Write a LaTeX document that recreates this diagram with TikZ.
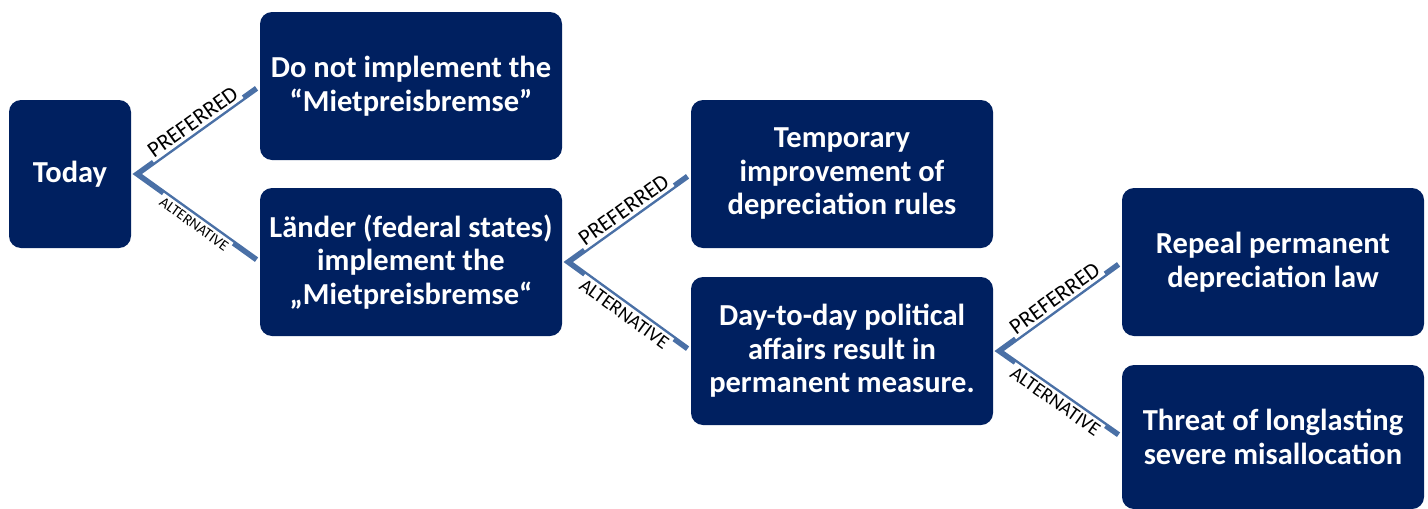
\documentclass[tikz,border=0pt]{standalone}
\usepackage{fontspec}
\setmainfont{Carlito}
\begin{document}
\begin{tikzpicture}[x=1pt,y=-1pt,
  box/.style={fill=navy, rounded corners=12pt, text=white, align=center,
    font=\bfseries\fontsize{30.5}{33.5}\selectfont, inner sep=0pt},
  link/.style={draw=linkblue, line width=5.5pt, line join=miter,
    shorten <=4pt, shorten >=4pt},
  pref/.style={sloped, pos=0.5, fill=white, inner xsep=2.5pt, inner ysep=3pt,
    above=-3pt, text=black, font=\fontsize{22.5}{22.5}\selectfont},
  alt/.style={sloped, pos=0.5, fill=white, inner xsep=2.5pt, inner ysep=3pt,
    below=-3pt, text=black, font=\fontsize{19.5}{19.5}\selectfont},
  altsmall/.style={alt, font=\fontsize{15}{15}\selectfont}]
\definecolor{navy}{RGB}{0,32,96}
\definecolor{linkblue}{RGB}{74,112,166}
\useasboundingbox (0,0) rectangle (1428,509);

% decision boxes
\node[box, minimum width=122pt, minimum height=148pt] (today) at (70,174) {Today};
\node[box, minimum width=302pt, minimum height=148pt] (nomp) at (411,86)
  {Do not implement the\\``Mietpreisbremse''};
\node[box, minimum width=302pt, minimum height=148pt] (laender) at (411,262)
  {Länder (federal states)\\implement the\\„Mietpreisbremse“};
\node[box, minimum width=302pt, minimum height=148pt] (temp) at (842,174)
  {Temporary\\improvement of\\depreciation rules};
\node[box, minimum width=302pt, minimum height=148pt] (perm) at (842,351)
  {Day-to-day political\\affairs result in\\permanent measure.};
\node[box, minimum width=302pt, minimum height=148pt] (repeal) at (1273,262)
  {Repeal permanent\\depreciation law};
\node[box, minimum width=302pt, minimum height=144pt] (threat) at (1273,437)
  {Threat of longlasting\\severe misallocation};

% branches
\draw[link] (nomp.west) -- node[pref] {PREFERRED} ([xshift=6pt]today.east)
  -- node[altsmall] {ALTERNATIVE} (laender.west);
\draw[link] (temp.west) -- node[pref] {PREFERRED} ([xshift=6pt]laender.east)
  -- node[alt] {ALTERNATIVE} (perm.west);
\draw[link] (repeal.west) -- node[pref] {PREFERRED} ([xshift=6pt]perm.east)
  -- node[alt] {ALTERNATIVE} (threat.west);
\end{tikzpicture}
\end{document}
